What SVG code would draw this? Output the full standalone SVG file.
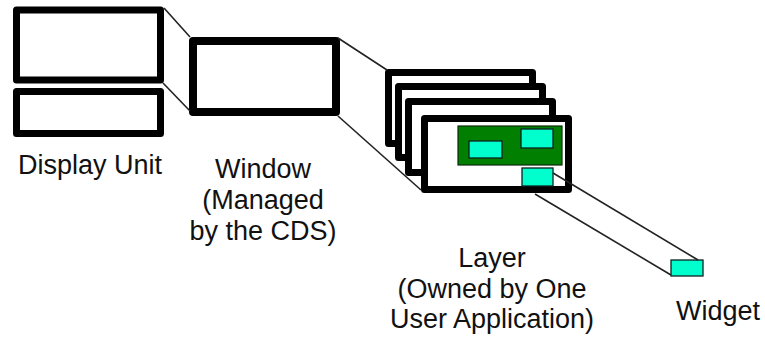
<svg xmlns="http://www.w3.org/2000/svg" width="765" height="341" viewBox="0 0 765 341">
<style>
.frame{fill:#fff;stroke:#000;stroke-linejoin:round}
.panel{fill:#007f00;stroke:#0a2a0a;stroke-width:1.2}
.wid{fill:#00ffcc;stroke:#102020;stroke-width:1.3}
.conn{stroke:#222;stroke-width:1.6;fill:none}
text{font-family:"Liberation Sans",Arial,sans-serif;font-size:27px;fill:#111}
</style>
<rect width="765" height="341" fill="#fff"/>
<g id="display-unit">
<rect class="frame" x="16.5" y="10" width="144" height="70" stroke-width="7"/>
<rect class="frame" x="16.5" y="91.5" width="144" height="42" stroke-width="7"/>
<text x="90" y="174" text-anchor="middle">Display Unit</text>
</g>
<g id="window">
<rect class="frame" x="193" y="41" width="143" height="71" stroke-width="8"/>
<text text-anchor="middle"><tspan x="263" y="178">Window</tspan><tspan x="263" y="209">(Managed</tspan><tspan x="263" y="240">by the CDS)</tspan></text>
</g>
<g id="layers">
<rect class="frame" x="388.5" y="72.5" width="144" height="71" stroke-width="7"/>
<rect class="frame" x="398.5" y="86.5" width="144" height="71" stroke-width="7"/>
<rect class="frame" x="408.5" y="101.5" width="144" height="71" stroke-width="7"/>
<rect class="frame" x="424.5" y="118.5" width="144" height="71" stroke-width="7"/>
<rect class="panel" x="458" y="126" width="104" height="39"/>
<rect class="wid" x="469" y="141" width="33" height="17"/>
<rect class="wid" x="521" y="129" width="32" height="19"/>
<rect class="wid" x="522" y="168" width="31" height="18"/>
<text text-anchor="middle"><tspan x="492" y="267">Layer</tspan><tspan x="492" y="298">(Owned by One</tspan><tspan x="492" y="328">User Application)</tspan></text>
</g>
<g id="widget">
<rect class="wid" x="671" y="260" width="32" height="16"/>
<text x="718" y="320" text-anchor="middle">Widget</text>
</g>
<g id="connectors">
<line class="conn" x1="164" y1="8" x2="190" y2="37"/>
<line class="conn" x1="163" y1="83" x2="190" y2="111"/>
<line class="conn" x1="338" y1="38" x2="387" y2="70"/>
<line class="conn" x1="338" y1="116" x2="421" y2="190"/>
<line class="conn" x1="553" y1="173" x2="698" y2="260"/>
<line class="conn" x1="535" y1="194" x2="671" y2="275"/>
</g>
</svg>
